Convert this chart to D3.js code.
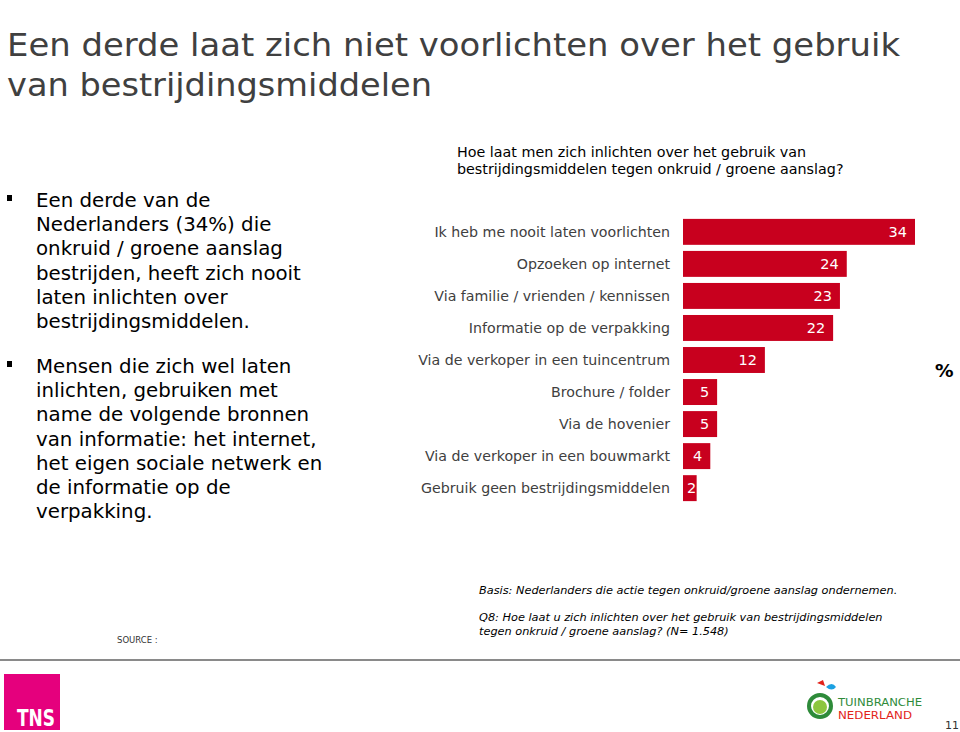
<!DOCTYPE html>
<html><head><meta charset="utf-8">
<script src="https://cdn.jsdelivr.net/npm/d3@7"></script>
<style>body{margin:0;background:#fff}svg{display:block}</style>
</head><body>
<script>
const categories = ["Ik heb me nooit laten voorlichten","Opzoeken op internet","Via familie / vrienden / kennissen","Informatie op de verpakking","Via de verkoper in een tuincentrum","Brochure / folder","Via de hovenier","Via de verkoper in een bouwmarkt","Gebruik geen bestrijdingsmiddelen"];
const values = [34,24,23,22,12,5,5,4,2];
const titleLines = ["Een derde laat zich niet voorlichten over het gebruik","van bestrijdingsmiddelen"];
const bullet1 = ["Een derde van de","Nederlanders (34%) die","onkruid / groene aanslag","bestrijden, heeft zich nooit","laten inlichten over","bestrijdingsmiddelen."];
const bullet2 = ["Mensen die zich wel laten","inlichten, gebruiken met","name de volgende bronnen","van informatie: het internet,","het eigen sociale netwerk en","de informatie op de","verpakking."];
const questionLines = ["Hoe laat men zich inlichten over het gebruik van","bestrijdingsmiddelen tegen onkruid / groene aanslag?"];
const noteLines = ["Basis: Nederlanders die actie tegen onkruid/groene aanslag ondernemen.","","Q8: Hoe laat u zich inlichten over het gebruik van bestrijdingsmiddelen","tegen onkruid / groene aanslag? (N= 1.548)"];

const W=960,H=732;
const svg=d3.select("body").append("svg").attr("width",W).attr("height",H);
const font="Verdana, 'DejaVu Sans', sans-serif";

// Title
const titleWidths=[893,425];
svg.append("g").selectAll("text").data(titleLines).join("text")
  .attr("x",7).attr("y",(d,i)=>56+i*40)
  .attr("font-family","'DejaVu Sans',sans-serif")
  .attr("font-size",31.5).attr("fill","#404040")
  .attr("textLength",(d,i)=>titleWidths[i]).attr("lengthAdjust","spacingAndGlyphs")
  .text(d=>d);

// Bullets
function bullets(lines,y0){
  const g=svg.append("g");
  g.append("rect").attr("x",7).attr("y",y0-12).attr("width",5).attr("height",6).attr("fill","#000");
  g.selectAll("text").data(lines).join("text")
    .attr("x",36).attr("y",(d,i)=>y0+i*24.2)
    .attr("font-family",font).attr("font-size",19.8).attr("fill","#000").text(d=>d);
}
bullets(bullet1,207);
bullets(bullet2,373);

// Question
svg.append("g").selectAll("text").data(questionLines).join("text")
  .attr("x",457).attr("y",(d,i)=>157+i*17)
  .attr("font-family",font).attr("font-size",14.3).attr("fill","#000").text(d=>d);

// Chart
const x0=683;
const x=d3.scaleLinear().domain([0,34]).range([x0,915]);
const y=d3.scaleBand().domain(categories).range([216,504]).paddingInner(0.19).paddingOuter(0.09);
const g=svg.append("g");
g.selectAll("rect").data(values).join("rect")
  .attr("x",x(0)).attr("y",(d,i)=>y(categories[i]))
  .attr("width",d=>x(d)-x(0)).attr("height",y.bandwidth()).attr("fill","#c8001e");
g.selectAll("text.cat").data(categories).join("text").attr("class","cat")
  .attr("x",670).attr("y",d=>y(d)+y.bandwidth()/2).attr("dy","0.35em")
  .attr("text-anchor","end").attr("font-family",font).attr("font-size",14.2)
  .attr("fill","#404040").text(d=>d);
const vt=g.selectAll("text.val").data(values).join("text").attr("class","val")
  .attr("y",(d,i)=>y(categories[i])+y.bandwidth()/2).attr("dy","0.35em")
  .attr("font-family",font).attr("font-size",14.5).attr("fill","#fff").text(d=>d);
vt.each(function(d){
  const w=this.getComputedTextLength();
  d3.select(this).attr("x",Math.max(x(d)-8-w,x(0)+4));
});

svg.append("text").attr("x",935).attr("y",377).attr("font-family",font)
  .attr("font-weight","bold").attr("font-size",18.5).attr("fill","#000").text("%");

// Notes
svg.append("g").selectAll("text").data(noteLines).join("text")
  .attr("x",479).attr("y",(d,i)=>594+i*13.5)
  .attr("font-family",font).attr("font-style","italic").attr("font-size",11.3).attr("fill","#000").text(d=>d);
svg.append("text").attr("x",117).attr("y",643).attr("font-family",font)
  .attr("font-size",8.5).attr("fill","#333").text("SOURCE :");

// Footer line
svg.append("rect").attr("x",0).attr("y",659).attr("width",960).attr("height",2).attr("fill","#8a8a8a");

// TNS logo
svg.append("rect").attr("x",4).attr("y",674).attr("width",56).attr("height",56).attr("fill","#e5007d");
svg.append("text").attr("x",17).attr("y",726)
  .attr("font-family","'DejaVu Sans Condensed',sans-serif").attr("font-weight","bold").attr("font-size",23)
  .attr("textLength",38).attr("lengthAdjust","spacingAndGlyphs").attr("fill","#fff").text("TNS");

// Tuinbranche logo
const lg=svg.append("g");
lg.append("circle").attr("cx",820).attr("cy",706).attr("r",11).attr("fill","none").attr("stroke","#2e8b3a").attr("stroke-width",4);
lg.append("circle").attr("cx",820).attr("cy",707).attr("r",7).attr("fill","#8cc63f");
lg.append("path").attr("d","M817,683 l6,-3 l2,6 z").attr("fill","#e2231a");
lg.append("path").attr("d","M826,687 q6,-6 10,0 q-4,5 -10,0z").attr("fill","#1ba1e2");
lg.append("text").attr("x",838).attr("y",706).attr("font-family","'DejaVu Sans Condensed',sans-serif")
  .attr("font-size",11).attr("textLength",84).attr("lengthAdjust","spacingAndGlyphs")
  .attr("fill","#2e8b3a").text("TUINBRANCHE");
lg.append("text").attr("x",838).attr("y",719).attr("font-family","'DejaVu Sans Condensed',sans-serif")
  .attr("font-size",11).attr("textLength",74).attr("lengthAdjust","spacingAndGlyphs")
  .attr("fill","#e2231a").text("NEDERLAND");
svg.append("text").attr("x",945).attr("y",729).attr("font-family",font)
  .attr("font-size",11).attr("fill","#333").text("11");
</script>
</body></html>
